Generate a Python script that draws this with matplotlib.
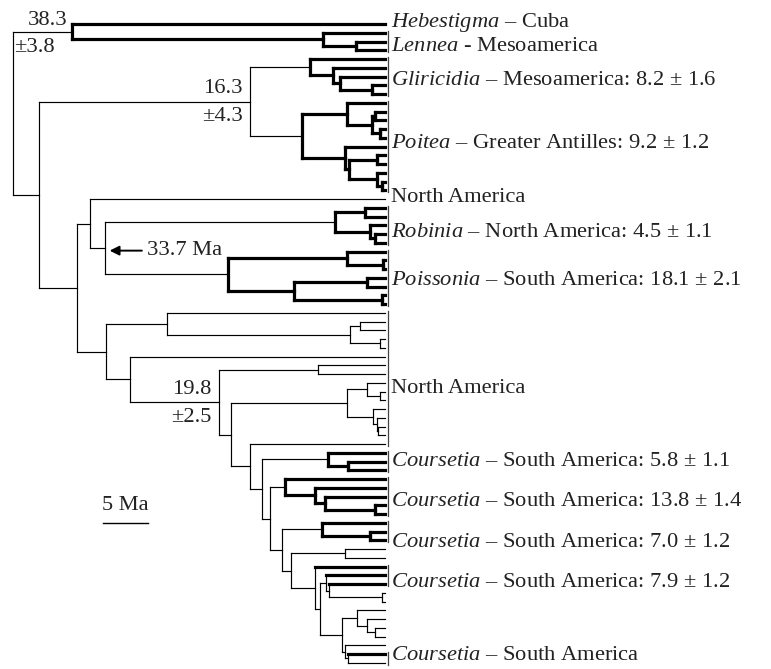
import matplotlib
matplotlib.use("Agg")
import matplotlib.pyplot as plt

# Tree as clade strings: "(child,child)age" with age in Ma, "t" = tip,
# "!" after a node = whole clade drawn bold, "!" after a tip = bold tip branch.
hebestigma_lennea = "(t,(t,(t,t)3.2)6.9)34.8!"
gliricidia = "(t,(t,(t,(t,t)1.4)5.0)5.8)8.3!"
poitea = "((t,((t,t)1.1,(t,t)0.6)1.4)4.2,(t,((t,t)0.9,(t,(t,t)0.3)0.9)4.0)4.4)9.2!"
robinia = "((t,t)2.2,(t,(t,t)1.1)1.7)5.6!"
poissonia = "((t,(t,t)0.2)4.2,((t,t)2.0,(t,t)0.3)10.1)17.4!"
north_am_a = "(t,((t,t)2.8,(t,t)0.6)3.9)24.2"
north_am_b = "((t,(t,t)0.6)2.0,(t,(t,(t,t)0.8)0.9)1.3)4.2"
cours_58 = "(t,(t,t)4.1)6.3!"
cours_138 = "(t,(t,(t,(t,t)1.1)6.7)7.8)11.1!"
cours_70 = "(t,(t,t)1.7)7.0!"
cours_79 = "(t!,(t!,(t,t)0.3)6.2)6.6"
cours_rest = "((t,(t,(t,t)1.1)2.0)3.1,(t,(t!,t)4.1)4.4)4.8"

tree = ("(" + hebestigma_lennea + ",((" + gliricidia + "," + poitea + ")15.0,"
        "((t,(" + robinia + "," + poissonia + ")31.1)32.8,"
        "(" + north_am_a + ",(t,((t,t)7.4,(" + north_am_b + ",(t,("
        + cours_58 + ",(" + cours_138 + ",(" + cours_70 + ",((t,t)4.4,(t!,("
        + cours_79 + "," + cours_rest + ")7.2)7.8)10.4)11.4)12.8)13.7)15.0)17.1)18.4)28.3)31.0)34.2)38.4)41.3")

# clade labels: text and vertical position (in tip units)
labels = [
    "$\\mathit{Hebestigma}$ – Cuba",
    "$\\mathit{Lennea}$ - Mesoamerica",
    "$\\mathit{Gliricidia}$ – Mesoamerica: 8.2 ± 1.6",
    "$\\mathit{Poitea}$ – Greater Antilles: 9.2 ± 1.2",
    "North America",
    "$\\mathit{Robinia}$ – North America: 4.5 ± 1.1",
    "$\\mathit{Poissonia}$ – South America: 18.1 ± 2.1",
    "North America",
    "$\\mathit{Coursetia}$ – South America: 5.8 ± 1.1",
    "$\\mathit{Coursetia}$ – South America: 13.8 ± 1.4",
    "$\\mathit{Coursetia}$ – South America: 7.0 ± 1.2",
    "$\\mathit{Coursetia}$ – South America: 7.9 ± 1.2",
    "$\\mathit{Coursetia}$ – South America",
]
label_pos = [-0.15, 2.6, 6.5, 13.6, 19.8, 23.8, 29.3, 41.6, 50.0, 54.6, 59.2, 63.8, 72.2]

# clade bars (first tip, last tip)
bar_first = [1, 4, 9, 21, 26, 33, 49, 52, 57, 62, 72]
bar_last = [3, 8, 19, 25, 32, 48, 51, 56, 59, 64, 73]

# node age estimates (text, age, tip position)
node_text = ["38.3", "±3.8", "16.3", "±4.3", "19.8", "±2.5"]
node_x = [35.3, 36.7, 15.8, 15.8, 19.3, 19.3]
node_y = [-0.4, 2.7, 7.4, 10.6, 41.8, 45.0]


def parse(s, i=0):
    if s[i] == "(":
        kids = []
        i += 1
        while True:
            kid, i = parse(s, i)
            kids.append(kid)
            if s[i] == ",":
                i += 1
                continue
            i += 1
            break
        j = i
        while j < len(s) and s[j] in "0123456789.":
            j += 1
        node = {"age": float(s[i:j]), "kids": kids, "bold": False}
        if j < len(s) and s[j] == "!":
            node["bold"] = True
            j += 1
        return node, j
    node = {"age": 0.0, "kids": [], "bold": False}
    i += 1
    if i < len(s) and s[i] == "!":
        node["bold"] = True
        i += 1
    return node, i


root, _ = parse(tree)

plt.rcParams["font.family"] = ["Liberation Serif", "DejaVu Serif"]
plt.rcParams["mathtext.fontset"] = "custom"
plt.rcParams["mathtext.it"] = "Liberation Serif:italic"
plt.rcParams["mathtext.rm"] = "Liberation Serif"

fig = plt.figure(figsize=(7.71, 6.69), dpi=100)
ax = fig.add_axes([0, 0, 1, 1])
ax.set_xlim(42.78, -42.89)
ax.set_ylim(73.71, -2.743)
ax.axis("off")

THIN, THICK = 0.85, 2.3
FS = 16.2
counter = [0]


def draw(node, in_bold):
    if not node["kids"]:
        node["y"] = counter[0]
        counter[0] += 1
        return
    sub_bold = in_bold or node["bold"]
    for k in node["kids"]:
        draw(k, sub_bold)
    y0, y1 = node["kids"][0]["y"], node["kids"][-1]["y"]
    node["y"] = (y0 + y1) / 2
    ax.plot([node["age"], node["age"]], [y0, y1], color="black",
            lw=THICK if sub_bold else THIN, solid_capstyle="projecting")
    for k in node["kids"]:
        bold = sub_bold or (not k["kids"] and k["bold"])
        ax.plot([node["age"], k["age"]], [k["y"], k["y"]], color="black",
                lw=THICK if bold else THIN, solid_capstyle="projecting")


draw(root, False)

for a, b in zip(bar_first, bar_last):
    ax.plot([-0.35, -0.35], [a - 0.2, b + 0.2], color="#444444", lw=0.9)

for txt, p in zip(labels, label_pos):
    ax.text(-0.65, p, txt, fontsize=FS, ha="left", va="center", color="#222222")

for txt, x, y in zip(node_text, node_x, node_y):
    ax.text(x, y, txt, fontsize=FS, ha="right", va="center", color="#222222")

ax.annotate("33.7 Ma", xy=(30.6, 25.9), xytext=(26.4, 25.9), fontsize=FS,
            ha="left", va="center", color="#222222",
            arrowprops=dict(arrowstyle="-|>", color="black", lw=1.4,
                            mutation_scale=14, shrinkA=2, shrinkB=0))

ax.plot([31.33, 26.33], [57.0, 57.0], color="black", lw=1.0)
ax.text(28.83, 55.0, "5 Ma", fontsize=FS, ha="center", va="center", color="#222222")

fig.savefig("out.png", dpi=100)
plt.close()
